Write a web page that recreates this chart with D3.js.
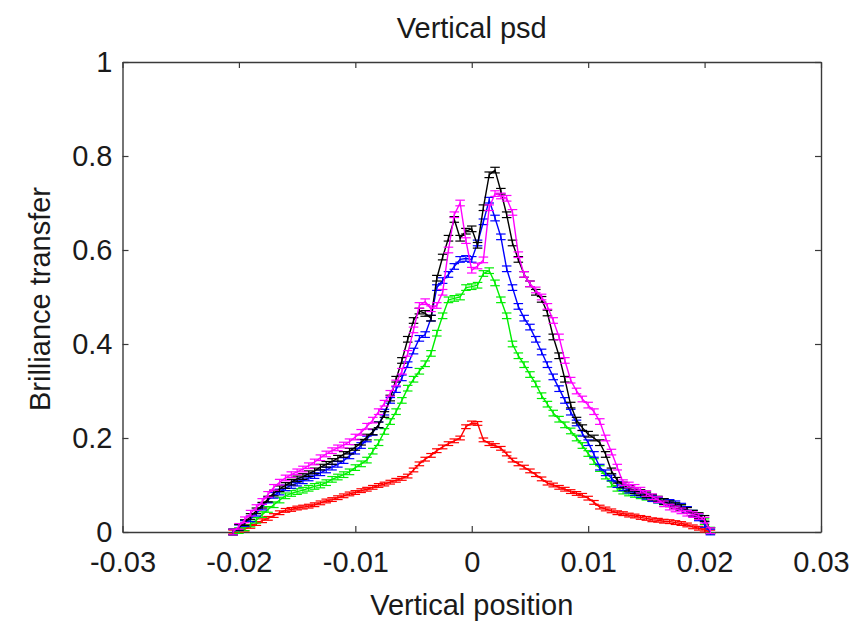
<!DOCTYPE html>
<html>
<head>
<meta charset="utf-8">
<script src="https://cdn.jsdelivr.net/npm/d3@7"></script>
<style>
  html, body { margin: 0; padding: 0; background: #fff; }
  text { font-family: "Liberation Sans", Arial, Helvetica, sans-serif; fill: #1a1a1a; }
</style>
</head>
<body>
<svg id="chart" width="859" height="623"></svg>
<script>
// ---- data ----
const chartTitle = "Vertical psd";
const xLabel = "Vertical position";
const yLabel = "Brilliance transfer";

const xTickValues = [-0.03, -0.02, -0.01, 0, 0.01, 0.02, 0.03];
const xTickLabels = ["-0.03", "-0.02", "-0.01", "0", "0.01", "0.02", "0.03"];
const yTickValues = [0, 0.2, 0.4, 0.6, 0.8, 1];
const yTickLabels = ["0", "0.2", "0.4", "0.6", "0.8", "1"];

const positions = [
  -0.0205,-0.0200,-0.0195,-0.0190,-0.0185,-0.0180,-0.0175,-0.0170,-0.0165,-0.0160,
  -0.0155,-0.0150,-0.0145,-0.0140,-0.0135,-0.0130,-0.0125,-0.0120,-0.0115,-0.0110,
  -0.0105,-0.0100,-0.0095,-0.0090,-0.0085,-0.0080,-0.0075,-0.0070,-0.0065,-0.0060,
  -0.0055,-0.0050,-0.0045,-0.0040,-0.0035,-0.0030,-0.0025,-0.0020,-0.0015,-0.0010,
  -0.0005, 0,
  0.0005,0.0010,0.0015,0.0020,0.0025,0.0030,0.0035,0.0040,0.0045,0.0050,
  0.0055,0.0060,0.0065,0.0070,0.0075,0.0080,0.0085,0.0090,0.0095,0.0100,
  0.0105,0.0110,0.0115,0.0120,0.0125,0.0130,0.0135,0.0140,0.0145,0.0150,
  0.0155,0.0160,0.0165,0.0170,0.0175,0.0180,0.0185,0.0190,0.0195,0.0200,
  0.0205
];

const redValues = [
  0,0.003,0.006,0.012,0.018,0.024,0.029,0.035,0.041,0.046,
  0.048,0.051,0.053,0.055,0.058,0.062,0.066,0.069,0.073,0.077,
  0.081,0.084,0.088,0.091,0.095,0.099,0.102,0.106,0.110,0.114,
  0.119,0.132,0.145,0.155,0.163,0.173,0.181,0.188,0.194,0.200,
  0.224, 0.232,
  0.231,0.196,0.188,0.184,0.178,0.166,0.153,0.145,0.138,0.130,
  0.122,0.113,0.104,0.100,0.095,0.091,0.086,0.082,0.078,0.072,
  0.063,0.053,0.049,0.045,0.041,0.039,0.036,0.034,0.031,0.029,
  0.026,0.025,0.023,0.022,0.020,0.018,0.015,0.011,0.008,0.004,
  0
];
const greenValues = [
  0,0.003,0.009,0.017,0.025,0.037,0.048,0.058,0.068,0.077,
  0.082,0.086,0.089,0.093,0.097,0.100,0.105,0.112,0.117,0.122,
  0.128,0.137,0.145,0.153,0.172,0.190,0.214,0.235,0.256,0.280,
  0.306,0.325,0.342,0.358,0.380,0.423,0.460,0.494,0.497,0.500,
  0.520, 0.522,
  0.525,0.550,0.556,0.530,0.494,0.460,0.400,0.375,0.356,0.335,
  0.315,0.290,0.272,0.253,0.240,0.228,0.215,0.200,0.184,0.167,
  0.150,0.135,0.119,0.102,0.093,0.087,0.083,0.080,0.077,0.074,
  0.071,0.068,0.064,0.061,0.056,0.052,0.047,0.040,0.033,0.022,
  0.004
];
const blueValues = [
  0,0.009,0.018,0.028,0.040,0.053,0.068,0.078,0.085,0.094,
  0.099,0.104,0.109,0.115,0.120,0.126,0.132,0.138,0.144,0.152,
  0.162,0.172,0.184,0.198,0.212,0.228,0.255,0.280,0.303,0.328,
  0.356,0.385,0.412,0.420,0.455,0.520,0.535,0.548,0.565,0.580,
  0.582, 0.580,
  0.615,0.660,0.706,0.668,0.628,0.560,0.520,0.480,0.455,0.436,
  0.410,0.383,0.356,0.330,0.305,0.280,0.255,0.232,0.210,0.190,
  0.165,0.138,0.126,0.115,0.101,0.094,0.089,0.084,0.080,0.076,
  0.071,0.068,0.065,0.063,0.060,0.055,0.048,0.040,0.030,0.016,
  0
];
const blackValues = [
  0,0.010,0.020,0.033,0.045,0.057,0.070,0.083,0.092,0.099,
  0.106,0.113,0.118,0.124,0.130,0.138,0.144,0.150,0.157,0.165,
  0.172,0.180,0.191,0.202,0.213,0.228,0.250,0.285,0.325,0.365,
  0.410,0.450,0.470,0.465,0.455,0.540,0.585,0.625,0.665,0.625,
  0.640, 0.645,
  0.610,0.690,0.760,0.770,0.725,0.675,0.615,0.580,0.548,0.528,
  0.510,0.495,0.466,0.415,0.375,0.325,0.270,0.238,0.222,0.208,
  0.200,0.190,0.165,0.130,0.110,0.100,0.093,0.088,0.084,0.079,
  0.074,0.070,0.065,0.060,0.056,0.052,0.046,0.040,0.035,0.029,
  0.003
];
const magentaValues = [
  0,0.012,0.026,0.040,0.052,0.065,0.080,0.095,0.106,0.115,
  0.122,0.128,0.134,0.141,0.149,0.158,0.166,0.173,0.179,0.185,
  0.192,0.202,0.212,0.225,0.238,0.256,0.274,0.295,0.317,0.342,
  0.380,0.430,0.482,0.490,0.475,0.482,0.510,0.600,0.675,0.700,
  0.620, 0.557,
  0.566,0.579,0.690,0.720,0.715,0.710,0.680,0.590,0.548,0.528,
  0.515,0.500,0.480,0.450,0.415,0.365,0.323,0.300,0.283,0.270,
  0.256,0.235,0.200,0.170,0.138,0.105,0.100,0.095,0.089,0.082,
  0.075,0.069,0.060,0.053,0.049,0.045,0.040,0.037,0.033,0.025,
  0.003
];

// approximate error half-height for each series (read off the caps)
const seriesNames  = ["red", "green", "blue", "black", "magenta"];
const seriesErrors = [0.004, 0.006, 0.006, 0.006, 0.006];

// ---- styling / layout ----
const seriesColors = ["#ff0000", "#00ee00", "#0000ff", "#000000", "#ff00ff"];
const seriesValues = [redValues, greenValues, blueValues, blackValues, magentaValues];

const W = 859, H = 623;
const margin = { left: 122.5, right: 859 - 821, top: 62, bottom: 623 - 532 };

const svg = d3.select("#chart");
svg.append("rect").attr("width", W).attr("height", H).attr("fill", "#fff");

const x = d3.scaleLinear().domain([-0.03, 0.03]).range([margin.left, W - margin.right]);
const y = d3.scaleLinear().domain([0, 1]).range([H - margin.bottom, margin.top]);

const axisColor = "#3a3a3a";
const tickFont = 29;

function styleAxis(g) {
  g.selectAll("path.domain").attr("stroke", axisColor).attr("stroke-width", 1.4);
  g.selectAll(".tick line").attr("stroke", axisColor).attr("stroke-width", 1.2);
  g.selectAll(".tick text").attr("font-size", tickFont)
    .attr("font-family", '"Liberation Sans", Arial, sans-serif').attr("fill", "#1a1a1a");
}

// bottom axis
svg.append("g").attr("transform", `translate(0,${y(0)})`)
  .call(d3.axisBottom(x).tickValues(xTickValues)
    .tickFormat((d, i) => xTickLabels[i]).tickSizeInner(-6).tickSizeOuter(0).tickPadding(19))
  .call(styleAxis);
// top axis (ticks only)
svg.append("g").attr("transform", `translate(0,${y(1)})`)
  .call(d3.axisTop(x).tickValues(xTickValues).tickFormat("").tickSizeInner(-6).tickSizeOuter(0))
  .call(styleAxis);
// left axis
svg.append("g").attr("transform", `translate(${x(-0.03)},0)`)
  .call(d3.axisLeft(y).tickValues(yTickValues)
    .tickFormat((d, i) => yTickLabels[i]).tickSizeInner(-6).tickSizeOuter(0).tickPadding(10))
  .call(styleAxis);
// right axis (ticks only)
svg.append("g").attr("transform", `translate(${x(0.03)},0)`)
  .call(d3.axisRight(y).tickValues(yTickValues).tickFormat("").tickSizeInner(-6).tickSizeOuter(0))
  .call(styleAxis);

// series
const capHalf = (d3.max(positions) - d3.min(positions)) / 100;
const plot = svg.append("g");
const line = d3.line().x(d => x(d[0])).y(d => y(d[1]));

seriesValues.forEach((vals, si) => {
  const color = seriesColors[si];
  const err = seriesErrors[si];
  const pts = positions.map((p, i) => [p, vals[i]]);
  const g = plot.append("g").attr("class", "series-" + seriesNames[si]);
  g.append("path").datum(pts).attr("d", line)
    .attr("fill", "none").attr("stroke", color).attr("stroke-width", 1.4);
  const eb = g.selectAll("g.eb").data(pts).enter().append("g").attr("class", "eb");
  eb.append("line")
    .attr("x1", d => x(d[0])).attr("x2", d => x(d[0]))
    .attr("y1", d => y(d[1] - err)).attr("y2", d => y(d[1] + err))
    .attr("stroke", color).attr("stroke-width", 1.2);
  eb.append("line")
    .attr("x1", d => x(d[0] - capHalf)).attr("x2", d => x(d[0] + capHalf))
    .attr("y1", d => y(d[1] + err)).attr("y2", d => y(d[1] + err))
    .attr("stroke", color).attr("stroke-width", 1.2);
  eb.append("line")
    .attr("x1", d => x(d[0] - capHalf)).attr("x2", d => x(d[0] + capHalf))
    .attr("y1", d => y(d[1] - err)).attr("y2", d => y(d[1] - err))
    .attr("stroke", color).attr("stroke-width", 1.2);
});

// titles
svg.append("text").attr("x", (x(-0.03) + x(0.03)) / 2).attr("y", 38)
  .attr("text-anchor", "middle").attr("font-size", 29).text(chartTitle);
svg.append("text").attr("x", (x(-0.03) + x(0.03)) / 2).attr("y", 615)
  .attr("text-anchor", "middle").attr("font-size", 29).text(xLabel);
svg.append("text")
  .attr("transform", `translate(50,${(y(0) + y(1)) / 2 + 2}) rotate(-90)`)
  .attr("text-anchor", "middle").attr("font-size", 29).text(yLabel);
</script>
</body>
</html>
